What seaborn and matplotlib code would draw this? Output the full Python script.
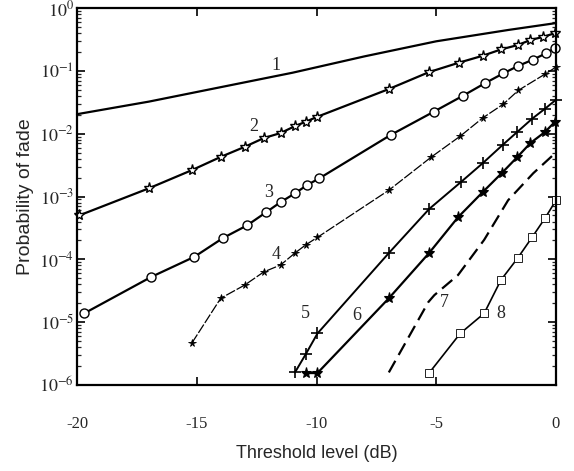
import numpy as np
import pandas as pd
import matplotlib
matplotlib.use("Agg")
import matplotlib.pyplot as plt
import seaborn as sns
from matplotlib.ticker import LogLocator, FixedLocator, NullFormatter

# ---- data (threshold dB, probability of fade) ----
c1_x = [-20.0, -17.0, -14.0, -11.0, -8.0, -5.0, -2.0, 0.0]
c1_y = [10**-1.69, 10**-1.49, 10**-1.26, 10**-1.03, 10**-0.77, 10**-0.53, 10**-0.35, 10**-0.24]

c2_x = [-19.9, -17.0, -15.2, -14.0, -13.0, -12.2, -11.5, -10.9, -10.45, -9.96, -6.98,
        -5.3, -4.05, -3.06, -2.3, -1.6, -1.07, -0.54, -0.04]
c2_y = [10**-3.30, 10**-2.87, 10**-2.58, 10**-2.37, 10**-2.21, 10**-2.07, 10**-1.99,
        10**-1.88, 10**-1.81, 10**-1.73, 10**-1.29, 10**-1.02, 10**-0.87, 10**-0.76,
        10**-0.66, 10**-0.59, 10**-0.51, 10**-0.46, 10**-0.40]

c3_x = [-19.7, -16.9, -15.1, -13.9, -12.9, -12.1, -11.5, -10.9, -10.4, -9.88, -6.9,
        -5.1, -3.9, -2.98, -2.2, -1.57, -0.95, -0.41, -0.05]
c3_y = [10**-4.86, 10**-4.28, 10**-3.96, 10**-3.66, 10**-3.46, 10**-3.25, 10**-3.09,
        10**-2.95, 10**-2.82, 10**-2.71, 10**-2.02, 10**-1.65, 10**-1.40, 10**-1.20,
        10**-1.04, 10**-0.92, 10**-0.82, 10**-0.72, 10**-0.64]

c4_x = [-15.2, -14.0, -13.0, -12.2, -11.5, -10.9, -10.45, -9.96, -6.98, -5.2, -4.0,
        -3.06, -2.2, -1.57, -0.45, 0.0]
c4_y = [10**-5.33, 10**-4.62, 10**-4.41, 10**-4.20, 10**-4.09, 10**-3.90, 10**-3.77,
        10**-3.65, 10**-2.90, 10**-2.37, 10**-2.04, 10**-1.75, 10**-1.53, 10**-1.31,
        10**-1.05, 10**-0.94]

c5_x = [-10.9, -10.45, -9.96, -6.98, -5.3, -3.97, -3.06, -2.23, -1.61, -0.99, -0.45, 0.0]
c5_y = [10**-5.80, 10**-5.51, 10**-5.18, 10**-3.90, 10**-3.20, 10**-2.77, 10**-2.47,
        10**-2.18, 10**-1.97, 10**-1.76, 10**-1.60, 10**-1.46]

c6_x = [-10.45, -9.96, -6.98, -5.3, -4.09, -3.06, -2.27, -1.61, -1.07, -0.45, -0.04]
c6_y = [10**-5.81, 10**-5.81, 10**-4.62, 10**-3.90, 10**-3.33, 10**-2.93, 10**-2.63,
        10**-2.37, 10**-2.15, 10**-1.97, 10**-1.81]

c7_x = [-6.98, -5.33, -5.08, -4.09, -3.0, -2.0, -0.95, -0.12]
c7_y = [10**-5.80, 10**-4.68, 10**-4.57, 10**-4.25, 10**-3.69, 10**-3.06, 10**-2.63, 10**-2.34]

c8_x = [-5.3, -4.0, -3.0, -2.3, -1.6, -1.0, -0.45, 0.0]
c8_y = [10**-5.81, 10**-5.18, 10**-4.86, 10**-4.33, 10**-3.98, 10**-3.65, 10**-3.34, 10**-3.06]

curve_labels = ["1", "2", "3", "4", "5", "6", "7", "8"]
label_x = [-11.7, -12.6, -12.0, -11.7, -10.45, -8.3, -4.67, -2.3]
label_y = [10**-0.91, 10**-1.89, 10**-2.93, 10**-3.93, 10**-4.86, 10**-4.89, 10**-4.68, 10**-4.86]

x_ticks = [-20, -15, -10, -5, 0]
y_ticks = [1e-6, 1e-5, 1e-4, 1e-3, 1e-2, 1e-1, 1e0]
y_ticklabels = [r"$10^{-6}$", r"$10^{-5}$", r"$10^{-4}$", r"$10^{-3}$", r"$10^{-2}$",
                r"$10^{-1}$", r"$10^{0}$"]

# ---- style ----
sns.set_style("ticks")
plt.rcParams["font.family"] = ["Liberation Sans", "DejaVu Sans"]
plt.rcParams["mathtext.fontset"] = "stix"

fig = plt.figure(figsize=(5.74, 4.71), dpi=100)
ax = fig.add_axes([77/574, 1-385/471, (556-77)/574, (385-8)/471])

curves = [
    (c1_x, c1_y, dict(marker=None, linestyle="-", linewidth=1.6)),
    (c2_x, c2_y, dict(marker="*", markersize=8, markerfacecolor="white",
                      markeredgecolor="black", markeredgewidth=1.0, linewidth=1.6)),
    (c3_x, c3_y, dict(marker="o", markersize=6.5, markerfacecolor="white",
                      markeredgecolor="black", markeredgewidth=1.0, linewidth=1.6)),
    (c4_x, c4_y, dict(marker="*", markersize=5.5, markerfacecolor="black",
                      markeredgecolor="black", markeredgewidth=0.6, linewidth=0.9,
                      dashes=(8, 1.5))),
    (c5_x, c5_y, dict(marker="+", markersize=9, markeredgecolor="black",
                      markeredgewidth=1.2, linewidth=1.4)),
    (c6_x, c6_y, dict(marker="*", markersize=8, markerfacecolor="black",
                      markeredgecolor="black", markeredgewidth=0.8, linewidth=1.6)),
    (c7_x, c7_y, dict(marker=None, linewidth=1.6, dashes=(6, 3))),
    (c8_x, c8_y, dict(marker="s", markersize=6, markerfacecolor="white",
                      markeredgecolor="black", markeredgewidth=0.6, linewidth=1.2)),
]

for xs, ys, kw in curves:
    df = pd.DataFrame({"x": xs, "y": ys})
    sns.lineplot(data=df, x="x", y="y", ax=ax, color="black", sort=False,
                 estimator=None, legend=False, clip_on=False, **kw)

ax.set_yscale("log")
ax.set_xlim(-19.8, 0)
ax.set_ylim(1e-6, 1e0)

for t, lx, ly in zip(curve_labels, label_x, label_y):
    ax.text(lx, ly, t, fontsize=13, family=["Liberation Serif"], ha="center", va="center")

ax.set_xticks(x_ticks)
ax.set_xticklabels([str(v) for v in x_ticks], family=["Liberation Serif"], fontsize=12)
ax.yaxis.set_major_locator(FixedLocator(y_ticks))
ax.set_yticklabels(y_ticklabels, fontsize=13)
ax.yaxis.set_minor_locator(LogLocator(base=10, subs=np.arange(2, 10), numticks=20))
ax.yaxis.set_minor_formatter(NullFormatter())

ax.tick_params(axis="both", which="major", direction="in", length=6, width=1.2,
               top=True, right=True, color="black")
ax.tick_params(axis="y", which="minor", direction="in", length=3, width=0.9,
               left=True, right=True)
ax.tick_params(axis="x", which="major", pad=22)
ax.tick_params(axis="y", which="major", pad=2)

for s in ax.spines.values():
    s.set_linewidth(1.6)
    s.set_color("black")
    s.set_visible(True)

ax.set_xlabel("Threshold level (dB)", fontsize=13, labelpad=10)
ax.set_ylabel("Probability of fade", fontsize=14, labelpad=4)

fig.savefig("out.png", dpi=100)
